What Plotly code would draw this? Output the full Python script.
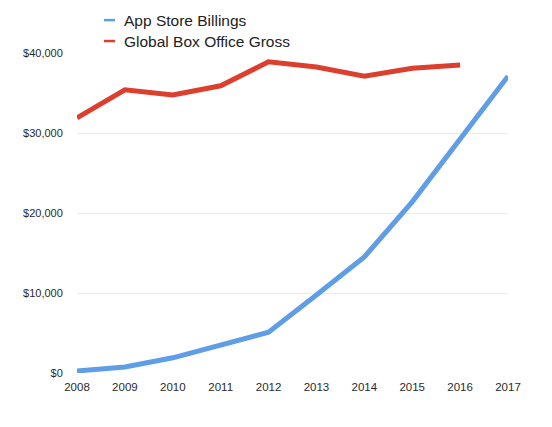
import plotly.graph_objects as go

years = [2008, 2009, 2010, 2011, 2012, 2013, 2014, 2015, 2016, 2017]
app_store_billings = [250, 750, 1900, 3500, 5100, 9750, 14500, 21400, 29200, 37100]
box_office_years = [2008, 2009, 2010, 2011, 2012, 2013, 2014, 2015, 2016]
global_box_office = [31900, 35400, 34750, 35900, 38900, 38250, 37100, 38100, 38500]

y_ticks = [0, 10000, 20000, 30000, 40000]
y_tick_labels = ["$0", "$10,000", "$20,000", "$30,000", "$40,000"]

blue = "#5f9de6"
red = "#dc3f2d"
font_family = "Liberation Sans, Arial, Helvetica, sans-serif"

fig = go.Figure()
fig.add_trace(go.Scatter(x=years, y=app_store_billings, mode="lines",
                         name="App Store Billings",
                         line=dict(color=blue, width=5), cliponaxis=False))
fig.add_trace(go.Scatter(x=box_office_years, y=global_box_office, mode="lines",
                         name="Global Box Office Gross",
                         line=dict(color=red, width=5), cliponaxis=False))

# legend drawn as short dashes + text
legend_items = [("App Store Billings", blue, 20), ("Global Box Office Gross", red, 41)]
for label, color, py in legend_items:
    fig.add_shape(type="line", xref="paper", yref="paper",
                  x0=(104 - 77) / 431, x1=(115 - 77) / 431,
                  y0=(374 - py) / 321, y1=(374 - py) / 321,
                  line=dict(color=color, width=2.5))
    fig.add_annotation(text=label, xref="paper", yref="paper",
                       x=(122 - 77) / 431, y=(374 - py) / 321,
                       xanchor="left", yanchor="middle", showarrow=False,
                       font=dict(size=15.5, color="#222", family=font_family))

fig.update_layout(
    width=552, height=427,
    margin=dict(l=69, r=52, t=45, b=62),
    paper_bgcolor="white", plot_bgcolor="white",
    showlegend=False,
    font=dict(family=font_family, color="#333", size=11),
    xaxis=dict(range=[2008, 2017], tickvals=years, ticktext=[str(y) for y in years],
               showgrid=False, zeroline=False, showline=False,
               ticks="outside", ticklen=3, tickcolor="rgba(0,0,0,0)",
               tickfont=dict(size=11.5, color="#2a2a2a")),
    yaxis=dict(range=[0, 40000], tickvals=y_ticks, ticktext=y_tick_labels,
               showgrid=True, gridcolor="#ececec", gridwidth=1,
               zeroline=False, showline=False,
               ticks="outside", ticklen=11, tickcolor="rgba(0,0,0,0)",
               tickfont=dict(size=11, color="#2a2a2a")),
)

fig.write_html("out.html")
